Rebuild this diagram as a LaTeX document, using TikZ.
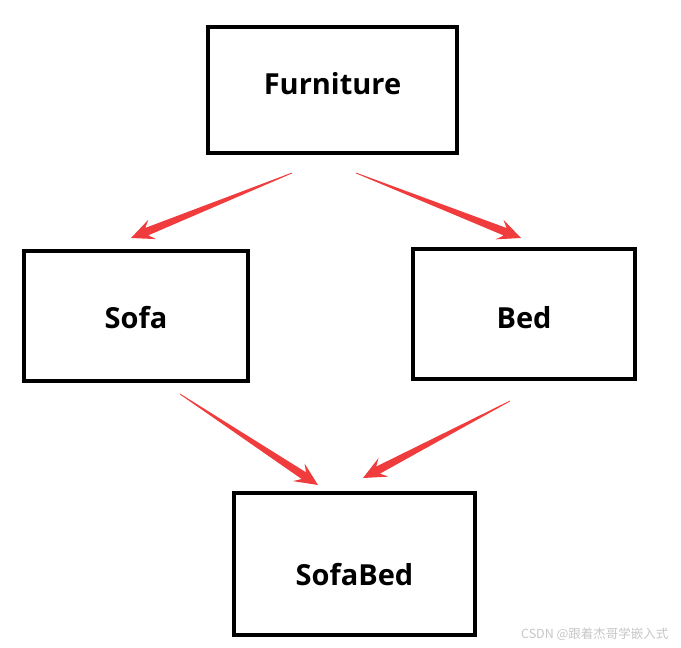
\documentclass[tikz,border=0pt]{standalone}
\usepackage{fontspec}
\setmainfont{Open Sans}
\newfontfamily\cjkfont{Noto Sans CJK SC}
\usetikzlibrary{calc}
\definecolor{arrowred}{RGB}{240,60,60}

% tapered red arrow from #1 to #2
\newcommand\taperarrow[2]{%
  \fill[arrowred] let \p1=(#1), \p2=(#2), \n1={atan2(\y2-\y1,\x2-\x1)} in
    ($(\p1)+(\n1+90:0.4pt)$)
    -- ($(\p2)+(\n1+180:17pt)+(\n1+90:4pt)$)
    -- ($(\p2)+(\n1+180:23pt)+(\n1+90:10.5pt)$)
    -- (\p2)
    -- ($(\p2)+(\n1+180:23pt)+(\n1-90:10.5pt)$)
    -- ($(\p2)+(\n1+180:17pt)+(\n1-90:4pt)$)
    -- ($(\p1)+(\n1-90:0.4pt)$) -- cycle;}

\begin{document}
\begin{tikzpicture}[
		x=1pt, y=-1pt,
		% Define styles for nodes
		classbox/.style={draw, rectangle, line width=4pt, inner sep=0pt, font=\bfseries\fontsize{29}{32}\selectfont},
		wmtext/.style={text=gray!45, font=\cjkfont\fontsize{12.5}{14}\selectfont}
	]
	\useasboundingbox (0,0) rectangle (681,648);

	% Classes
	\node[classbox, minimum width=249pt, minimum height=126pt, text height=20pt, text depth=11.3pt] (furniture) at (332.5,90) {Furniture};
	\node[classbox, minimum width=224pt, minimum height=130pt, text height=25pt, text depth=0.3pt] (sofa) at (136,316) {Sofa};
	\node[classbox, minimum width=222pt, minimum height=130pt, text height=29pt, text depth=0.3pt] (bed) at (524,314) {Bed};
	\node[classbox, minimum width=241pt, minimum height=142pt, text height=43pt, text depth=0.3pt] (sofabed) at (354.5,564) {SofaBed};

	% Arrow ends
	\coordinate (f1) at ($(furniture.south)+(-40.5,18)$);
	\coordinate (f2) at ($(furniture.south)+(23.5,18)$);
	\coordinate (s1) at ($(sofa.north)+(-5,-11)$);
	\coordinate (s2) at ($(sofa.south)+(44,11)$);
	\coordinate (b1) at ($(bed.north)+(-3,-9)$);
	\coordinate (b2) at ($(bed.south)+(-14,20)$);
	\coordinate (sb1) at ($(sofabed.north)+(-36.5,-6)$);
	\coordinate (sb2) at ($(sofabed.north)+(8.5,-13)$);

	% Arrows
	\taperarrow{f1}{s1}
	\taperarrow{f2}{b1}
	\taperarrow{s2}{sb1}
	\taperarrow{b2}{sb2}

	\node[wmtext, anchor=east] (watermark) at (672,634) {CSDN @跟着杰哥学嵌入式};
\end{tikzpicture}
\end{document}
